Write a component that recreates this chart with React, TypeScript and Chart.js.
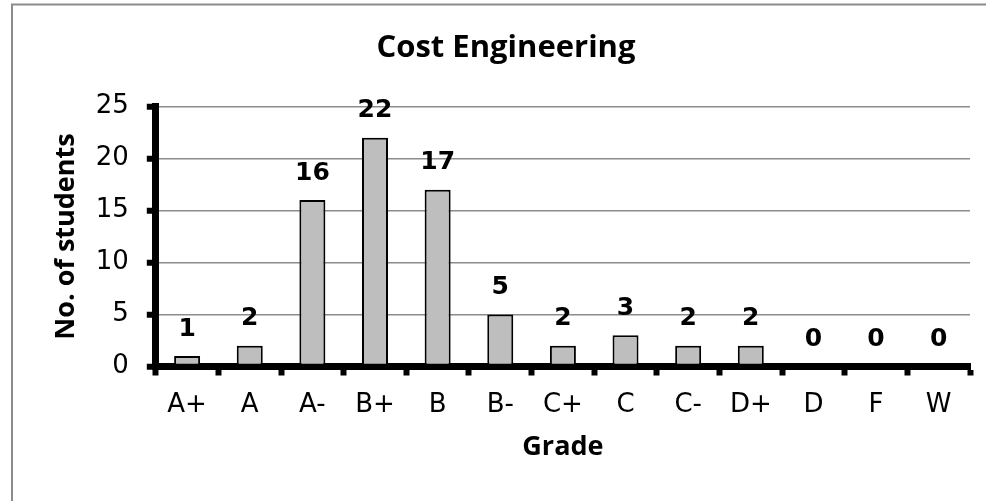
import React, { useEffect, useRef } from "react";
import { Chart, registerables } from "chart.js";

Chart.register(...registerables);

const categories = ["A+", "A", "A-", "B+", "B", "B-", "C+", "C", "C-", "D+", "D", "F", "W"];
const students = [1, 2, 16, 22, 17, 5, 2, 3, 2, 2, 0, 0, 0];
const yMin = 0;
const yMax = 25;
const yStep = 5;
const chartTitle = "Cost Engineering";
const xTitle = "Grade";
const yTitle = "No. of students";

const framePlugin = {
  id: "frame",
  beforeDraw(chart: any) {
    const ctx = chart.ctx;
    ctx.save();
    ctx.fillStyle = "#ffffff";
    ctx.fillRect(0, 0, chart.width, chart.height);
    ctx.strokeStyle = "#8c8c8c";
    ctx.lineWidth = 2;
    ctx.beginPath();
    ctx.moveTo(12, chart.height);
    ctx.lineTo(12, 4.5);
    ctx.lineTo(chart.width, 4.5);
    ctx.stroke();
    ctx.restore();
  },
};

const valueLabelPlugin = {
  id: "valueLabels",
  afterDatasetsDraw(chart: any) {
    const ctx = chart.ctx;
    const meta = chart.getDatasetMeta(0);
    const data = chart.data.datasets[0].data;
    ctx.save();
    ctx.font = "bold 25px 'DejaVu Sans'";
    ctx.fillStyle = "#000000";
    ctx.textAlign = "center";
    ctx.textBaseline = "middle";
    meta.data.forEach((bar: any, i: number) => {
      ctx.fillText(String(data[i]), bar.x, bar.y - 27);
    });
    ctx.restore();
  },
};

export default function App() {
  const canvasRef = useRef<HTMLCanvasElement>(null);

  useEffect(() => {
    if (!canvasRef.current) return;
    const chart = new Chart(canvasRef.current, {
      type: "bar",
      data: {
        labels: categories,
        datasets: [
          {
            label: yTitle,
            data: students,
            backgroundColor: "#bebebe",
            borderColor: "#000000",
            borderWidth: 2,
            borderSkipped: false,
            barPercentage: 0.415,
            categoryPercentage: 1,
          },
        ],
      },
      options: {
        responsive: false,
        animation: false,
        devicePixelRatio: 1,
        layout: { padding: { left: 42, right: 16, top: 0, bottom: 0 } },
        plugins: {
          legend: { display: false },
          tooltip: { enabled: false },
          title: {
            display: true,
            text: chartTitle,
            color: "#000000",
            font: { family: "'Open Sans'", size: 31, weight: "bold" },
            padding: { top: 30, bottom: 39.3 },
          },
        },
        scales: {
          x: {
            z: 1,
            grid: {
              offset: true,
              drawOnChartArea: false,
              drawTicks: true,
              tickLength: 9,
              tickWidth: 6,
              tickColor: "#000000",
            },
            border: { display: true, color: "#000000", width: 7 },
            ticks: {
              color: "#000000",
              font: { family: "'DejaVu Sans'", size: 26 },
              padding: 14,
              maxRotation: 0,
              autoSkip: false,
            },
            title: {
              display: true,
              text: xTitle,
              color: "#000000",
              font: { family: "'Open Sans'", size: 27, weight: "bold" },
              padding: { top: 0, bottom: 37 },
            },
            afterFit(scale: any) {
              scale.height = 134.5;
            },
          },
          y: {
            min: yMin,
            max: yMax,
            grid: {
              color: "#8c8c8c",
              lineWidth: 1.5,
              drawTicks: true,
              tickLength: 9,
              tickWidth: 6,
              tickColor: "#000000",
            },
            border: { display: true, color: "#000000", width: 7 },
            ticks: {
              stepSize: yStep,
              color: "#000000",
              font: { family: "'DejaVu Sans'", size: 26 },
              padding: 18,
            },
            title: {
              display: true,
              text: yTitle,
              color: "#000000",
              font: { family: "'Open Sans'", size: 27, weight: "bold" },
              padding: { top: 8, bottom: 0 },
            },
            afterFit(scale: any) {
              scale.width = 113.8;
            },
          },
        },
      },
      plugins: [framePlugin, valueLabelPlugin],
    } as any);
    return () => chart.destroy();
  }, []);

  return (
    <div style={{ position: "fixed", left: 0, top: 0, width: 986, height: 501, background: "#fff" }}>
      <canvas ref={canvasRef} width={986} height={501} style={{ display: "block" }} />
    </div>
  );
}
